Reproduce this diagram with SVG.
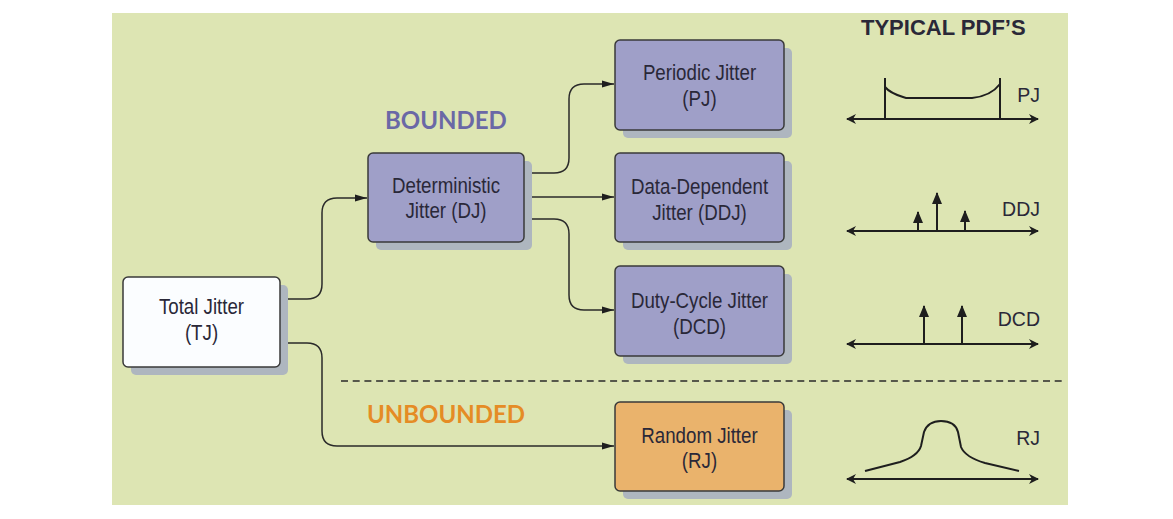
<svg xmlns="http://www.w3.org/2000/svg" width="1173" height="519" viewBox="0 0 1173 519">
<style>
.box{stroke:#3a3a3a;stroke-width:1.5}
.shadow{fill:#aeb6bf}
.lbl{font-family:"Liberation Sans",Arial,sans-serif;font-size:21.5px;fill:#2a2838;text-anchor:middle}
.conn{fill:none;stroke:#2a2a2a;stroke-width:1.5}
.axis{fill:none;stroke:#1e1e1e;stroke-width:2}
.pdf{font-family:"Liberation Sans",Arial,sans-serif;font-size:19.5px;fill:#2a2838;text-anchor:end}
.head{font-family:Lato,"Open Sans",sans-serif;font-weight:bold;font-size:24px}
</style>
<defs>
<marker id="arr" markerUnits="userSpaceOnUse" markerWidth="14" markerHeight="10" refX="12" refY="5" orient="auto">
<path d="M0,1.5 L12,5 L0,8.5 Z" fill="#1e1e1e"/>
</marker>
<marker id="ax" markerUnits="userSpaceOnUse" markerWidth="12" markerHeight="12" refX="9" refY="6" orient="auto-start-reverse">
<path d="M0,1 L10,6 L0,11 L3,6 Z" fill="#1e1e1e"/>
</marker>
<marker id="up" markerUnits="userSpaceOnUse" markerWidth="12" markerHeight="14" refX="11" refY="5" orient="auto">
<path d="M0,0 L12,5 L0,10 Z" fill="#1e1e1e"/>
</marker>
</defs>
<rect x="0" y="0" width="1173" height="519" fill="#ffffff"/>
<rect x="112" y="13" width="956" height="492" fill="#dde5b3"/>

<g id="connectors">
<path class="conn" marker-end="url(#arr)" d="M280,299 H307 Q322,299 322,284 V213 Q322,198 337,198 H367"/>
<path class="conn" marker-end="url(#arr)" d="M280,343 H307 Q322,343 322,358 V431 Q322,446 337,446 H614"/>
<path class="conn" marker-end="url(#arr)" d="M524,173 H554 Q569,173 569,158 V99 Q569,84 584,84 H614"/>
<path class="conn" marker-end="url(#arr)" d="M524,197 H614"/>
<path class="conn" marker-end="url(#arr)" d="M524,219 H554 Q569,219 569,234 V295 Q569,310 584,310 H614"/>
</g>

<g id="divider">
<line x1="341" y1="381" x2="1062" y2="381" stroke="#2a2a2a" stroke-width="1.5" stroke-dasharray="7 4.7"/>
</g>

<g id="headings">
<text class="head" x="385" y="129" fill="#6a68a6">BOUNDED</text>
<text class="head" x="367" y="423" fill="#e58c25">UNBOUNDED</text>
<text x="861" y="35" font-family="Liberation Sans,Arial,sans-serif" font-weight="bold" font-size="22px" fill="#2a2838">TYPICAL PDF’S</text>
</g>

<g id="node-tj">
<rect class="shadow" x="131" y="285" width="157" height="90" rx="5"/>
<rect class="box" x="123" y="277" width="157" height="90" rx="5" fill="#fbfdff"/>
<text class="lbl" transform="matrix(0.87 0 0 1 201.5 0)" x="0" y="314">Total Jitter</text>
<text class="lbl" transform="matrix(0.87 0 0 1 201.5 0)" x="0" y="340">(TJ)</text>
</g>

<g id="node-dj">
<rect class="shadow" x="376" y="161" width="156" height="89" rx="5"/>
<rect class="box" x="368" y="153" width="156" height="89" rx="5" fill="#9f9fc8"/>
<text class="lbl" transform="matrix(0.87 0 0 1 446 0)" x="0" y="193">Deterministic</text>
<text class="lbl" transform="matrix(0.87 0 0 1 446 0)" x="0" y="218">Jitter (DJ)</text>
</g>

<g id="node-pj">
<rect class="shadow" x="623" y="48" width="169" height="90" rx="5"/>
<rect class="box" x="615" y="40" width="169" height="90" rx="5" fill="#9f9fc8"/>
<text class="lbl" transform="matrix(0.87 0 0 1 699.5 0)" x="0" y="80">Periodic Jitter</text>
<text class="lbl" transform="matrix(0.87 0 0 1 699.5 0)" x="0" y="106">(PJ)</text>
</g>

<g id="node-ddj">
<rect class="shadow" x="623" y="161" width="169" height="89" rx="5"/>
<rect class="box" x="615" y="153" width="169" height="89" rx="5" fill="#9f9fc8"/>
<text class="lbl" transform="matrix(0.87 0 0 1 699.5 0)" x="0" y="194">Data-Dependent</text>
<text class="lbl" transform="matrix(0.87 0 0 1 699.5 0)" x="0" y="220">Jitter (DDJ)</text>
</g>

<g id="node-dcd">
<rect class="shadow" x="623" y="274" width="169" height="90" rx="5"/>
<rect class="box" x="615" y="266" width="169" height="90" rx="5" fill="#9f9fc8"/>
<text class="lbl" transform="matrix(0.87 0 0 1 699.5 0)" x="0" y="308">Duty-Cycle Jitter</text>
<text class="lbl" transform="matrix(0.87 0 0 1 699.5 0)" x="0" y="334">(DCD)</text>
</g>

<g id="node-rj">
<rect class="shadow" x="623" y="410" width="169" height="89" rx="5"/>
<rect class="box" x="615" y="402" width="169" height="89" rx="5" fill="#eab36c"/>
<text class="lbl" transform="matrix(0.87 0 0 1 699.5 0)" x="0" y="443">Random Jitter</text>
<text class="lbl" transform="matrix(0.87 0 0 1 699.5 0)" x="0" y="468">(RJ)</text>
</g>

<g id="pdf-pj">
<line class="axis" x1="847" y1="119" x2="1038" y2="119" marker-start="url(#ax)" marker-end="url(#ax)"/>
<line class="axis" x1="885" y1="119" x2="885" y2="78"/>
<line class="axis" x1="1000" y1="119" x2="1000" y2="78"/>
<path class="axis" d="M885,87 Q890,93 903,97 L906,98 H972 Q991,96 1000,84"/>
<text class="pdf" x="1040" y="102">PJ</text>
</g>

<g id="pdf-ddj">
<line class="axis" x1="847" y1="231" x2="1038" y2="231" marker-start="url(#ax)" marker-end="url(#ax)"/>
<line class="axis" x1="918" y1="231" x2="918" y2="212" marker-end="url(#up)"/>
<line class="axis" x1="937" y1="231" x2="937" y2="193" marker-end="url(#up)"/>
<line class="axis" x1="965" y1="231" x2="965" y2="211" marker-end="url(#up)"/>
<text class="pdf" x="1040" y="216">DDJ</text>
</g>

<g id="pdf-dcd">
<line class="axis" x1="847" y1="344" x2="1038" y2="344" marker-start="url(#ax)" marker-end="url(#ax)"/>
<line class="axis" x1="924" y1="344" x2="924" y2="306" marker-end="url(#up)"/>
<line class="axis" x1="962" y1="344" x2="962" y2="306" marker-end="url(#up)"/>
<text class="pdf" x="1040" y="326">DCD</text>
</g>

<g id="pdf-rj">
<line class="axis" x1="847" y1="479" x2="1038" y2="479" marker-start="url(#ax)" marker-end="url(#ax)"/>
<path class="axis" d="M865,471 L900,462 Q918,456 921,446 L924,432 Q928,421 941,421 Q955,421 958,432 L961,447 Q965,457 985,463 L1019,471"/>
<text class="pdf" x="1040" y="445">RJ</text>
</g>
</svg>
